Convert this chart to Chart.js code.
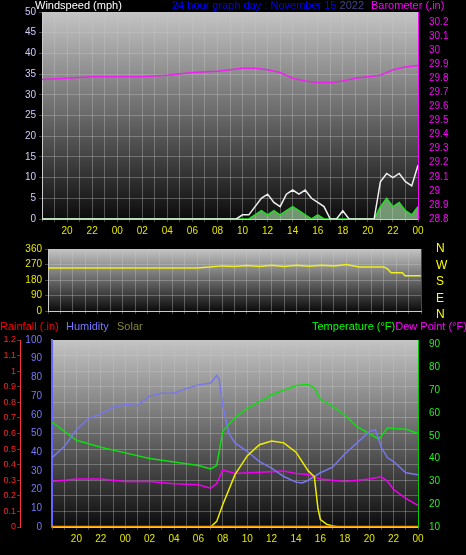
<!DOCTYPE html>
<html>
<head>
<meta charset="utf-8">
<script src="https://cdn.jsdelivr.net/npm/chart.js@4"></script>
<style>
body { margin:0; background:#000; width:466px; height:555px; overflow:hidden; position:relative; font-family:"Liberation Sans", Arial, sans-serif; }
canvas { position:absolute; left:0; }
.t { position:absolute; font-size:11px; white-space:nowrap; line-height:11px; }
</style>
</head>
<body>
<canvas id="wind" width="466" height="240" style="top:0"></canvas>
<canvas id="dir" width="466" height="80" style="top:240px"></canvas>
<canvas id="temp" width="466" height="225" style="top:330px"></canvas>
<div class="t" style="left:35px;top:0;color:#fff">Windspeed (mph)</div>
<div class="t" style="left:172px;top:0;color:#0000ff">24 hour graph day : November 15 <span style="color:#444488">2022</span></div>
<div class="t" style="left:371px;top:0;color:#ff00ff">Barometer (.in)</div>
<div class="t" style="left:436px;top:240px;color:#ffff00;line-height:16.5px;font-size:12px">N<br>W<br>S<br>E<br>N</div>
<div class="t" style="left:0;top:321px;color:#ff0000">Rainfall (.in)</div>
<div class="t" style="left:66px;top:321px;color:#7777ff">Humidity</div>
<div class="t" style="left:117px;top:321px;color:#888833">Solar</div>
<div class="t" style="left:312px;top:321px;color:#00ff00">Temperature (°F)<span style="color:#ff00ff">Dew Point (°F)</span></div>
<script>
// hours since 18:00 on the previous day (0..30)
const baroHours = [0, 2, 4, 6, 8, 10, 12, 14, 16, 17, 18, 19, 20, 21, 22, 23, 24, 25, 26, 27, 28, 29, 30];
const baroValues = [29.79, 29.80, 29.81, 29.81, 29.81, 29.82, 29.84, 29.85, 29.87, 29.87, 29.86, 29.84, 29.80, 29.78, 29.77, 29.77, 29.78, 29.80, 29.81, 29.82, 29.86, 29.88, 29.89];

const windHours = [0, 15.5, 16, 16.5, 17, 17.5, 18, 18.5, 19, 19.5, 20, 20.5, 21, 21.5, 22, 22.5, 23, 23.5, 24, 24.5, 25, 25.5, 26, 26.5, 27, 27.5, 28, 28.5, 29, 29.5, 30];
const gustValues = [0, 0, 1, 1, 3, 5, 6, 4, 3, 6, 7, 6, 7, 5, 4, 3, 0, 0, 2, 0, 0, 0, 0, 0, 9, 11, 10, 11, 9, 8, 13];
const avgValues = [0, 0, 0, 0, 1, 2, 1, 2, 1, 2, 3, 2, 1, 0, 1, 0, 0, 0, 0, 0, 0, 0, 0, 0, 3, 5, 3, 4, 2, 1, 3];

const dirHours = [0, 4, 8, 12, 13, 14, 15, 16, 17, 18, 19, 20, 21, 22, 23, 24, 25, 26, 27, 27.3, 27.6, 28.5, 28.7, 30];
const dirValues = [250, 250, 250, 250, 255, 262, 258, 264, 259, 265, 258, 266, 260, 266, 262, 270, 256, 256, 256, 245, 222, 222, 205, 205];

const tempHours = [0, 2, 4, 6, 8, 10, 12, 13, 13.5, 14, 15, 16, 17, 18, 19, 20, 21, 21.5, 22, 23, 24, 25, 26, 26.8, 27.5, 28.5, 29, 30];
const tempValues = [56, 48, 45, 42.5, 40, 38.5, 37, 35.5, 37, 52, 58, 62, 65, 68, 70, 72, 72.5, 71, 66, 63, 59, 54, 51, 48.5, 53.5, 53, 53, 51];

const humHours = [0, 1, 2, 3, 4, 5, 6, 7, 8, 9, 10, 11, 12, 13, 13.5, 13.7, 14, 14.5, 15, 16, 17, 18, 19, 20, 20.5, 21, 22, 23, 24, 25, 26, 26.5, 27, 27.5, 28, 29, 30];
const humValues = [37, 43, 52, 58, 60.5, 64, 65.5, 65, 70, 71.5, 71.5, 74, 76, 77, 81, 79, 64.5, 50, 45, 40.5, 35, 31.5, 27, 24, 23.5, 25, 29, 32, 39, 45, 51, 52, 42.5, 37, 35, 29, 28];

const dewHours = [0, 2, 4, 6, 8, 10, 12, 13, 13.5, 14, 15, 17, 19, 20, 21, 22, 24, 26, 27, 27.5, 28, 29, 30];
const dewValues = [30, 31, 31, 30, 30, 29, 28.5, 27, 29, 35, 33.5, 34, 34.5, 33.5, 33, 31, 30, 31, 32, 30, 26.5, 22.5, 19.5];

const solarHours = [0, 13, 13.5, 14, 15, 16, 17, 18, 19, 20, 21, 21.5, 21.8, 22, 22.5, 23, 23.5, 30];
const solarValues = [0, 0, 3, 12, 28, 38, 44, 46, 45, 40, 30, 27, 10, 4, 1.5, 0.5, 0, 0];

const rainHours = [0, 30];
const rainValues = [0, 0];
const rainDayHours = [13, 23];
const rainDayValues = [0, 0];

const hourLabels = ['18', '19', '20', '21', '22', '23', '00', '01', '02', '03', '04', '05', '06', '07', '08', '09', '10', '11', '12', '13', '14', '15', '16', '17', '18', '19', '20', '21', '22', '23', '00'];

function pts(xs, ys) { return xs.map((x, i) => ({ x: x, y: ys[i] })); }

const bgPlugin = {
  id: 'bg',
  beforeDraw(chart) {
    const a = chart.chartArea, c = chart.ctx;
    const g = c.createLinearGradient(0, a.top, 0, a.bottom);
    g.addColorStop(0, '#c4c4c4');
    g.addColorStop(1, '#0c0c0c');
    c.save();
    c.fillStyle = g;
    c.fillRect(a.left, a.top, a.right - a.left, a.bottom - a.top);
    c.restore();
  }
};

const font = { family: 'Liberation Sans', size: 10 };
const grid = { color: 'rgba(200,200,200,0.35)', drawTicks: true, tickLength: 3 };

function xAxis(showLabels, h) {
  return {
    type: 'linear', min: 0, max: 30, position: 'bottom',
    afterFit(s) { s.height = h; },
    grid: grid, border: { color: '#ccc' },
    ticks: {
      stepSize: 1, autoSkip: false, maxRotation: 0, color: '#e6e600', font: font, display: showLabels,
      callback: v => (v > 0 && v % 2 === 0) ? hourLabels[v] : ''
    }
  };
}

Chart.defaults.animation = false;
Chart.defaults.responsive = false;
Chart.defaults.plugins.legend.display = false;
Chart.defaults.plugins.tooltip.enabled = false;
Chart.defaults.elements.point.radius = 0;
Chart.defaults.elements.line.borderWidth = 1.5;

new Chart(document.getElementById('wind'), {
  type: 'line',
  plugins: [bgPlugin],
  data: {
    datasets: [
      { data: pts(windHours, gustValues), borderColor: '#f0f0f0', borderWidth: 1.5, yAxisID: 'y' },
      { data: pts(windHours, avgValues), borderColor: '#22dd22', backgroundColor: 'rgba(180,240,180,0.6)', fill: 'origin', yAxisID: 'y' },
      { data: pts(baroHours, baroValues), borderColor: '#ee22ee', yAxisID: 'y2' }
    ]
  },
  options: {
    layout: { padding: { top: 12 } },
    scales: {
      x: xAxis(true, 21),
      y: {
        min: 0, max: 50, afterFit(s) { s.width = 42; },
        grid: grid, border: { color: '#ccc' },
        ticks: { stepSize: 5, autoSkip: false, color: '#ccccff', font: font }
      },
      y2: {
        position: 'right', min: 28.8, max: 30.27, afterFit(s) { s.width = 48; },
        grid: { display: false }, border: { color: '#ff00ff' },
        afterBuildTicks(s) { s.ticks = [28.8, 28.9, 29, 29.1, 29.2, 29.3, 29.4, 29.5, 29.6, 29.7, 29.8, 29.9, 30, 30.1, 30.2].map(v => ({ value: v })); },
        ticks: { autoSkip: false, color: '#ff00ff', font: font, callback: v => +v.toFixed(1) }
      }
    }
  }
});

new Chart(document.getElementById('dir'), {
  type: 'line',
  plugins: [bgPlugin],
  data: {
    datasets: [
      { data: pts(dirHours, dirValues), borderColor: '#eeee22' }
    ]
  },
  options: {
    layout: { padding: { top: 6, right: 45 } },
    scales: {
      x: xAxis(false, 9),
      y: {
        min: 0, max: 360, afterFit(s) { s.width = 48; },
        grid: grid, border: { color: '#ccc' },
        ticks: { stepSize: 90, autoSkip: false, color: '#e6e600', font: font }
      }
    }
  }
});

new Chart(document.getElementById('temp'), {
  type: 'line',
  plugins: [bgPlugin],
  data: {
    datasets: [
      { data: pts(rainHours, rainValues), borderColor: '#ff9900', borderWidth: 2.5, yAxisID: 'rain' },
      { data: pts(rainDayHours, rainDayValues), borderColor: '#ff0000', borderWidth: 2.5, yAxisID: 'rain' },
      { data: pts(solarHours, solarValues), borderColor: '#eeee00', yAxisID: 'hum' },
      { data: pts(humHours, humValues), borderColor: '#7777ee', yAxisID: 'hum' },
      { data: pts(dewHours, dewValues), borderColor: '#ee00ee', yAxisID: 'temp' },
      { data: pts(tempHours, tempValues), borderColor: '#11dd11', yAxisID: 'temp' }
    ]
  },
  options: {
    layout: { padding: { top: 10 } },
    scales: {
      x: xAxis(true, 28),
      hum: {
        position: 'left', min: 0, max: 100, afterFit(s) { s.width = 32; },
        grid: { display: false }, border: { color: '#6666ff', width: 2 },
        ticks: { stepSize: 10, autoSkip: false, padding: 2, color: '#7777ff', font: font }
      },
      rain: {
        position: 'left', min: 0, max: 1.2, afterFit(s) { s.width = 20; },
        grid: grid, border: { color: '#ff3333' },
        ticks: { stepSize: 0.1, autoSkip: false, padding: 1, color: '#ff2222', font: { family: 'Liberation Sans', size: 9 }, callback: v => +v.toFixed(1) }
      },
      temp: {
        position: 'right', min: 10, max: 92, afterFit(s) { s.width = 48; },
        grid: { display: false }, border: { color: '#00cc00' },
        afterBuildTicks(s) { s.ticks = [10, 20, 30, 40, 50, 60, 70, 80, 90].map(v => ({ value: v })); },
        ticks: { autoSkip: false, color: '#22ee22', font: font }
      }
    }
  }
});
</script>
</body>
</html>
